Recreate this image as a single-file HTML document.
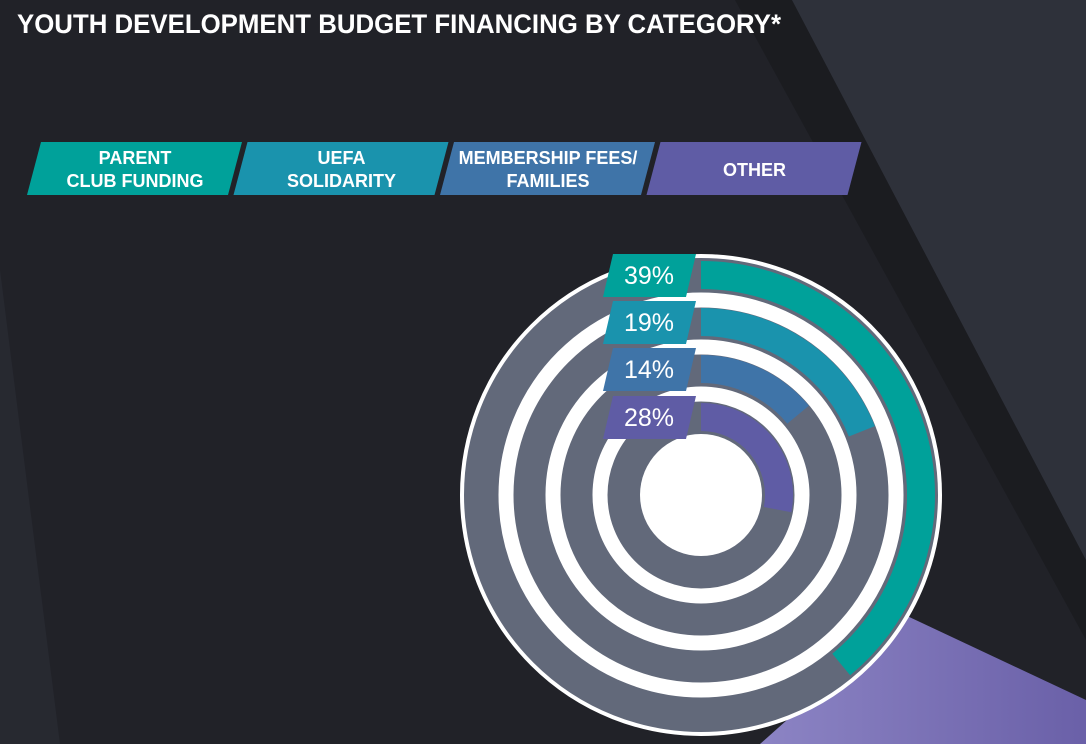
<!DOCTYPE html>
<html><head><meta charset="utf-8"><style>
html,body{margin:0;padding:0;background:#212228;}
svg{display:block;font-family:"Liberation Sans Narrow","Liberation Sans",sans-serif;}
</style></head><body>
<svg width="1086" height="744" viewBox="0 0 1086 744">
<defs>
<linearGradient id="pg" x1="0" y1="0" x2="1" y2="0"><stop offset="0" stop-color="#8c84c4"/><stop offset="1" stop-color="#6a60a8"/></linearGradient>
</defs>
<rect width="1086" height="744" fill="#212228"/>
<polygon points="735,0 792,0 1086,560 1086,640" fill="#1b1c20"/>
<polygon points="792,0 1086,0 1086,560" fill="#2e313a"/>
<polygon points="0,270 0,744 60,744" fill="#272930"/>
<polygon points="905,615 1086,700 1086,744 760,744" fill="url(#pg)"/>
<text x="17" y="33" fill="#fff" font-size="27" font-weight="bold" textLength="764" lengthAdjust="spacingAndGlyphs">YOUTH DEVELOPMENT BUDGET FINANCING BY CATEGORY*</text>
<g id="legend"></g>
<g id="chart"></g>
</svg>
<script>
const categories = ["PARENT|CLUB FUNDING","UEFA|SOLIDARITY","MEMBERSHIP FEES/|FAMILIES","OTHER"];
const values = [39, 19, 14, 28];
const valueLabels = ["39%","19%","14%","28%"];
const colors = ["#00a19a","#1a93ad","#3f74a8","#5f5ca5"];
const NS="http://www.w3.org/2000/svg";
function mk(t,a,p){const e=document.createElementNS(NS,t);for(const k in a)e.setAttribute(k,a[k]);p.appendChild(e);return e;}
const leg=document.getElementById('legend');
categories.forEach((c,i)=>{
  const x0=27+i*206.5;
  const g=mk('g',{},leg);
  
  
  mk('polygon',{points:`${x0+14},142 ${x0+215},142 ${x0+201},195 ${x0},195`,fill:colors[i]},g);
  const lines=c.split('|');
  lines.forEach((l,j)=>{
    const t=mk('text',{x:x0+108,y:(lines.length===1?176:164+j*23),'text-anchor':'middle',fill:'#fff','font-size':18,'font-weight':'bold'},g);
    t.textContent=l;
  });
});
const ch=document.getElementById('chart');
const cx=701,cy=495;
mk('circle',{cx,cy,r:239,fill:'#62697a',stroke:'#fff','stroke-width':4},ch);
const mids=[220,173,126,78];
[195,148,101].forEach(r=>mk('circle',{cx,cy,r,fill:'none',stroke:'#fff','stroke-width':15},ch));
mk('circle',{cx,cy,r:61,fill:'#fff'},ch);
function ang(v){return v/100*2*Math.PI;}
values.forEach((v,i)=>{
  const r=mids[i],a=ang(v);
  const x1=cx,y1=cy-r,x2=cx+r*Math.sin(a),y2=cy-r*Math.cos(a);
  const p=mk('path',{d:`M${x1},${y1} A${r},${r} 0 ${a>Math.PI?1:0} 1 ${x2},${y2}`,fill:'none',stroke:colors[i],'stroke-width':28},ch);
  
  
  const ty=cy-r-21;
  const tg=mk('g',{},ch);
  
  
  mk('polygon',{points:`613,${ty} 696,${ty} 686,${ty+43} 603,${ty+43}`,fill:colors[i]},tg);
  const t=mk('text',{x:649,y:ty+30,'text-anchor':'middle',fill:'#fff','font-size':25,'font-family':'Liberation Sans, sans-serif'},tg);
  t.textContent=valueLabels[i];
});
</script>
</body></html>
